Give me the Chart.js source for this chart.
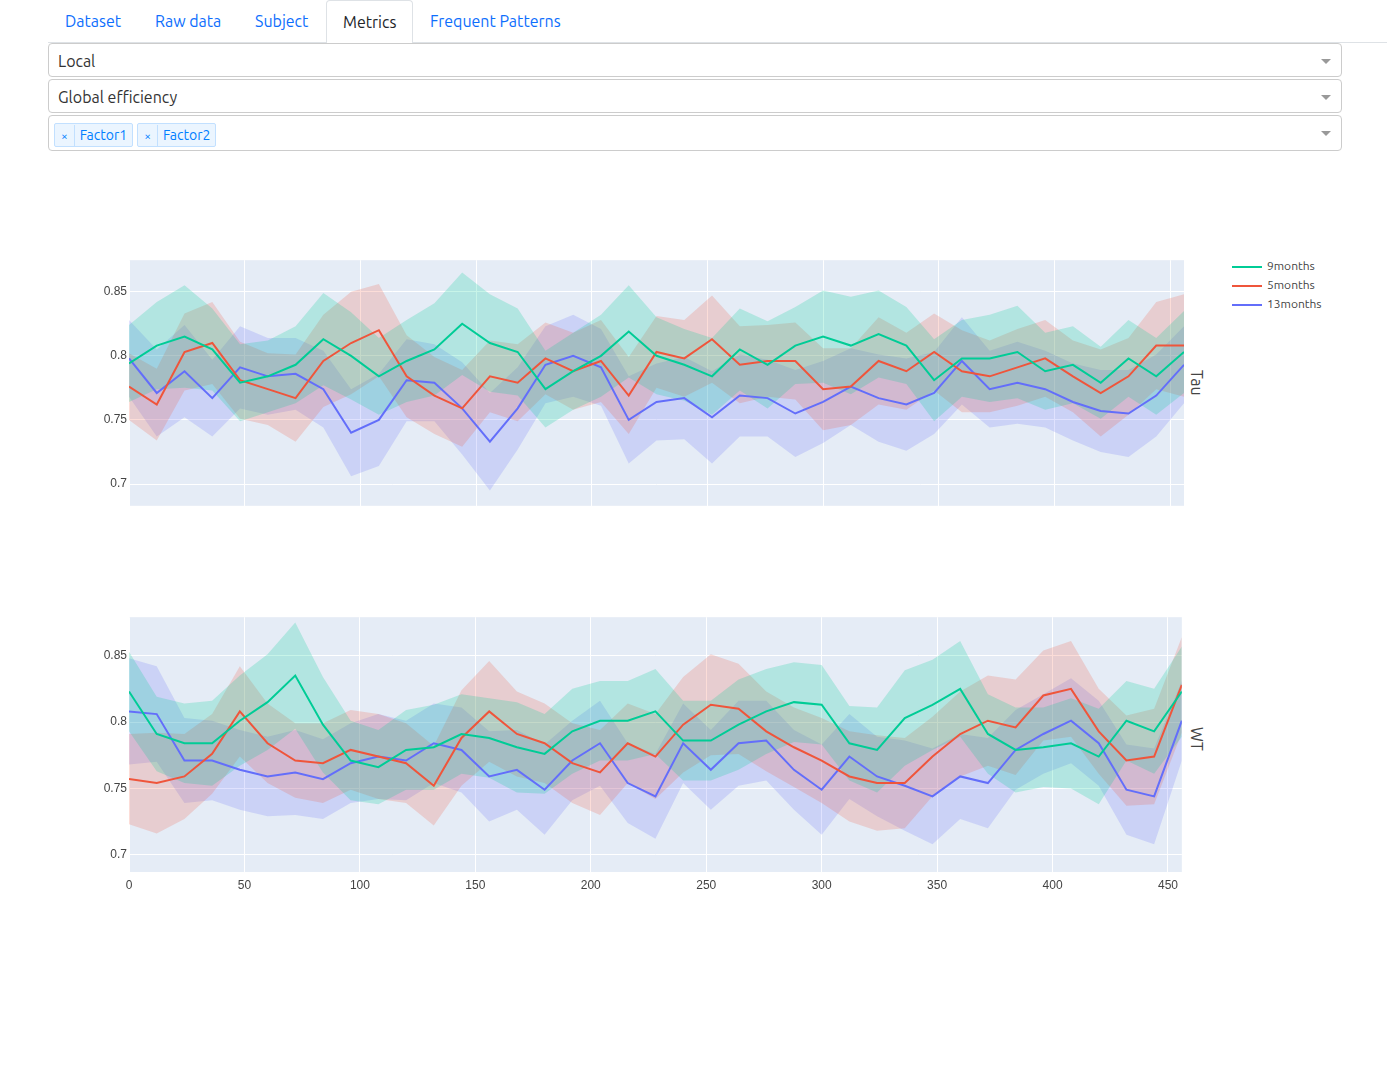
<!DOCTYPE html>
<html>
<head>
<meta charset="utf-8">
<script src="https://cdn.jsdelivr.net/npm/chart.js@4"></script>
<style>
body { margin: 0; background: #fff; font-family: Ubuntu, "Noto Sans", "Open Sans", sans-serif; width: 1387px; height: 1079px; position: relative; overflow: hidden; }
.tabs { position: absolute; top: 0; left: 48px; right: 0; height: 42px; border-bottom: 1px solid #dee2e6; }
.tab { position: absolute; top: 0; height: 42px; line-height: 42px; font-size: 16px; color: #0d6efd; }
.tab.active { color: #212529; border: 1px solid #dee2e6; border-bottom-color: #fff; border-radius: 4px 4px 0 0; padding: 0 16px; background: #fff; height: 42px; }
.sel { position: absolute; left: 48px; width: 1294px; height: 34px; border: 1px solid #ccc; border-radius: 4px; font-size: 16px; color: #333; line-height: 34px; box-sizing: border-box; padding-left: 9px; }
.sel:after { content: ""; position: absolute; right: 10px; top: 15px; border: 5px solid transparent; border-top-color: #999; }
.chip { display: inline-block; height: 22px; line-height: 22px; font-size: 14px; color: #007eff; background: #ebf5ff; border: 1px solid #c2e0ff; border-radius: 2px; margin-right: 4px; vertical-align: middle; }
.chip b { font-weight: normal; font-size: 12px; padding: 0 6px; border-right: 1px solid #c2e0ff; display: inline-block; }
.chip span { padding: 0 5px; }
.cw { position: absolute; left: 80px; width: 1104px; }
.side { position: absolute; left: 1188px; font-size: 16px; color: #444; transform: rotate(90deg); transform-origin: left top; }
.legend { position: absolute; left: 1232px; top: 257px; font-size: 12px; color: #444; }
.legend div { height: 19px; line-height: 17px; }
.legend i { display: inline-block; width: 30px; height: 2px; vertical-align: middle; margin-right: 5px; }
</style>
</head>
<body>
<div class="tabs">
  <div class="tab" style="left:17px">Dataset</div>
  <div class="tab" style="left:107px">Raw data</div>
  <div class="tab" style="left:207px">Subject</div>
  <div class="tab active" style="left:278px">Metrics</div>
  <div class="tab" style="left:382px">Frequent Patterns</div>
</div>
<div class="sel" style="top:43px">Local</div>
<div class="sel" style="top:79px">Global efficiency</div>
<div class="sel" style="top:115px;height:36px;padding-left:5px;line-height:34px"><span class="chip"><b>×</b><span>Factor1</span></span><span class="chip"><b>×</b><span>Factor2</span></span></div>

<div class="cw" style="top:251px;height:264px"><canvas id="tau"></canvas></div>
<div class="cw" style="top:608px;height:290px"><canvas id="wt"></canvas></div>
<div class="side" style="top:370px;left:1206px">Tau</div>
<div class="side" style="top:727px;left:1206px">WT</div>
<div class="legend">
  <div><i style="background:#00cc96"></i>9months</div>
  <div><i style="background:#EF553B"></i>5months</div>
  <div><i style="background:#636efa"></i>13months</div>
</div>

<script>
const xs = [0,12,24,36,48,60,72,84,96,108,120,132,144,156,168,180,192,204,216,228,240,252,264,276,288,300,312,324,336,348,360,372,384,396,408,420,432,444,456];
const seriesNames = ['9months', '5months', '13months'];
const yTicks = [0.7, 0.75, 0.8, 0.85];
const xTicks = [0, 50, 100, 150, 200, 250, 300, 350, 400, 450];

// Tau panel: means and band half-widths
const tau9 = [0.794,0.808,0.815,0.805,0.779,0.784,0.793,0.813,0.800,0.784,0.796,0.805,0.825,0.810,0.803,0.774,0.788,0.800,0.819,0.800,0.793,0.784,0.805,0.793,0.808,0.815,0.808,0.817,0.808,0.781,0.798,0.798,0.803,0.788,0.793,0.779,0.798,0.784,0.803];
const tau5 = [0.776,0.762,0.803,0.810,0.781,0.774,0.767,0.796,0.810,0.820,0.784,0.769,0.759,0.784,0.779,0.798,0.788,0.796,0.769,0.803,0.798,0.813,0.793,0.796,0.796,0.774,0.776,0.796,0.788,0.803,0.788,0.784,0.791,0.798,0.784,0.771,0.784,0.808,0.808];
const tau13 = [0.798,0.771,0.788,0.767,0.791,0.784,0.786,0.774,0.740,0.750,0.781,0.779,0.759,0.733,0.759,0.793,0.800,0.791,0.750,0.764,0.767,0.752,0.769,0.767,0.755,0.764,0.776,0.767,0.762,0.771,0.796,0.774,0.779,0.774,0.764,0.757,0.755,0.769,0.793];
const tau9Spread = [0.030,0.034,0.040,0.032,0.030,0.028,0.030,0.036,0.034,0.030,0.032,0.036,0.040,0.038,0.034,0.030,0.030,0.032,0.036,0.030,0.028,0.030,0.032,0.034,0.030,0.036,0.038,0.034,0.030,0.032,0.030,0.034,0.036,0.030,0.030,0.028,0.030,0.030,0.032];
const tau5Spread = [0.026,0.028,0.030,0.032,0.030,0.028,0.034,0.036,0.040,0.036,0.032,0.030,0.030,0.028,0.030,0.028,0.030,0.032,0.030,0.028,0.030,0.034,0.030,0.028,0.030,0.032,0.030,0.034,0.030,0.030,0.032,0.028,0.030,0.030,0.028,0.034,0.030,0.034,0.040];
const tau13Spread = [0.030,0.034,0.036,0.030,0.032,0.030,0.028,0.030,0.034,0.036,0.032,0.030,0.036,0.038,0.032,0.030,0.032,0.030,0.034,0.030,0.032,0.036,0.032,0.030,0.034,0.032,0.030,0.034,0.036,0.032,0.034,0.030,0.032,0.030,0.030,0.032,0.034,0.032,0.030];

// WT panel
const wt9 = [0.823,0.791,0.784,0.784,0.801,0.815,0.835,0.798,0.771,0.766,0.779,0.781,0.791,0.788,0.781,0.776,0.793,0.801,0.801,0.808,0.786,0.786,0.798,0.808,0.815,0.813,0.784,0.779,0.803,0.813,0.825,0.791,0.779,0.781,0.784,0.774,0.801,0.793,0.823];
const wt5 = [0.757,0.754,0.759,0.776,0.808,0.784,0.771,0.769,0.779,0.774,0.769,0.752,0.788,0.808,0.791,0.784,0.769,0.762,0.784,0.774,0.798,0.813,0.810,0.793,0.781,0.771,0.759,0.754,0.754,0.774,0.791,0.801,0.796,0.820,0.825,0.793,0.771,0.774,0.828];
const wt13 = [0.808,0.806,0.771,0.771,0.764,0.759,0.762,0.757,0.769,0.774,0.771,0.784,0.779,0.759,0.764,0.749,0.771,0.784,0.754,0.744,0.784,0.764,0.784,0.786,0.764,0.749,0.774,0.759,0.752,0.744,0.759,0.754,0.779,0.791,0.801,0.784,0.749,0.744,0.801];
const wt9Spread = [0.030,0.028,0.030,0.032,0.034,0.036,0.040,0.036,0.030,0.028,0.030,0.032,0.030,0.030,0.034,0.030,0.032,0.030,0.030,0.032,0.030,0.030,0.034,0.032,0.030,0.030,0.028,0.032,0.036,0.034,0.036,0.030,0.032,0.030,0.034,0.036,0.030,0.032,0.034];
const wt5Spread = [0.034,0.038,0.032,0.030,0.034,0.030,0.028,0.030,0.030,0.032,0.030,0.030,0.036,0.038,0.032,0.030,0.030,0.032,0.030,0.032,0.036,0.038,0.034,0.030,0.030,0.032,0.034,0.036,0.034,0.030,0.032,0.034,0.036,0.034,0.036,0.032,0.034,0.036,0.036];
const wt13Spread = [0.040,0.036,0.032,0.030,0.030,0.030,0.032,0.030,0.030,0.032,0.030,0.030,0.032,0.034,0.030,0.034,0.030,0.032,0.030,0.032,0.030,0.030,0.032,0.030,0.030,0.034,0.032,0.030,0.034,0.036,0.032,0.034,0.030,0.030,0.032,0.032,0.034,0.036,0.030];

const colors = ['#00cc96', '#EF553B', '#636efa'];
const bands = ['rgba(0,204,150,0.22)', 'rgba(239,85,59,0.2)', 'rgba(99,110,250,0.2)'];

const plotBg = {
    id: 'plotBg',
    beforeDraw(chart) {
        const a = chart.chartArea, ctx = chart.ctx;
        ctx.save();
        ctx.fillStyle = '#e5ecf6';
        ctx.fillRect(a.left, a.top, a.right - a.left, a.bottom - a.top);
        ctx.restore();
    }
};

function pts(vals, spread, sign) {
    return xs.map((x, i) => ({ x, y: vals[i] + sign * (spread ? spread[i] : 0) }));
}

function makeChart(id, means, spreads, yMin, yMax, showX) {
    const datasets = [];
    means.forEach((m, k) => {
        datasets.push({ data: pts(m, spreads[k], -1), borderWidth: 0, pointRadius: 0, fill: false, order: 2 });
        datasets.push({ data: pts(m, spreads[k], 1), borderWidth: 0, pointRadius: 0, fill: '-1', backgroundColor: bands[k], order: 2 });
    });
    means.forEach((m, k) => {
        datasets.push({ label: seriesNames[k], data: pts(m, null, 0), borderColor: colors[k], borderWidth: 2, pointRadius: 0, fill: false, order: 1 });
    });
    return new Chart(document.getElementById(id), {
        type: 'line',
        data: { datasets },
        plugins: [plotBg],
        options: {
            responsive: true, maintainAspectRatio: false, animation: false,
            layout: { padding: 0 },
            plugins: { legend: { display: false }, tooltip: { enabled: false } },
            scales: {
                x: {
                    type: 'linear', min: 0, max: 456,
                    afterBuildTicks: s => { s.ticks = xTicks.map(v => ({ value: v })); },
                    afterFit: s => { s.height = showX ? 26 : 0; },
                    grid: { color: '#fff', lineWidth: 1, drawTicks: false },
                    border: { display: false },
                    ticks: { display: showX, color: '#444', font: { size: 12 }, padding: 6, maxRotation: 0 }
                },
                y: {
                    min: yMin, max: yMax,
                    afterBuildTicks: s => { s.ticks = yTicks.map(v => ({ value: v })); },
                    afterFit: s => { s.width = 49; },
                    grid: { color: '#fff', lineWidth: 1, drawTicks: false },
                    border: { display: false },
                    ticks: { color: '#444', font: { size: 12 }, padding: 2, callback: v => String(v) }
                }
            }
        }
    });
}

makeChart('tau', [tau9, tau5, tau13], [tau9Spread, tau5Spread, tau13Spread], 0.683, 0.8746, false);
makeChart('wt', [wt9, wt5, wt13], [wt9Spread, wt5Spread, wt13Spread], 0.687, 0.879, true);
</script>
</body>
</html>
